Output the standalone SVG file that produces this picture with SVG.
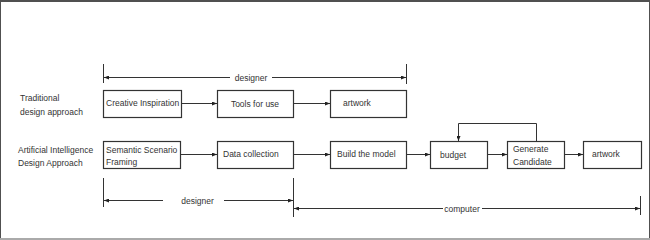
<svg xmlns="http://www.w3.org/2000/svg" width="650" height="240" viewBox="0 0 650 240">
<defs>
<marker id="ah" markerWidth="5" markerHeight="4" refX="5" refY="2" orient="auto-start-reverse" markerUnits="userSpaceOnUse">
<path d="M0,0 L5,2 L0,4 z" fill="#222"/>
</marker>
<style>
.box{fill:#fff;stroke:#333;stroke-width:1.2}
.ln{fill:none;stroke:#333;stroke-width:1}
.t{font-family:"Liberation Sans",Arial,sans-serif;font-size:8.5px;fill:#333}
.c{text-anchor:middle}
</style>
</defs>
<rect x="0" y="0" width="650" height="240" fill="#fff"/>
<g id="frame">
<line x1="0" y1="1" x2="650" y2="1" stroke="#505050" stroke-width="2"/>
<line x1="0.5" y1="0" x2="0.5" y2="240" stroke="#505050" stroke-width="1"/>
<line x1="649.5" y1="0" x2="649.5" y2="240" stroke="#505050" stroke-width="1"/>
<line x1="0" y1="239" x2="650" y2="239" stroke="#aaa" stroke-width="2"/>
</g>
<g id="labels">
<text class="t" x="20" y="101">Traditional</text>
<text class="t" x="20" y="115">design approach</text>
<text class="t" x="18" y="153">Artificial Intelligence</text>
<text class="t" x="18" y="166">Design Approach</text>
</g>
<g id="n1"><rect class="box" x="103.5" y="90.5" width="78" height="27"/><text class="t" x="106" y="106">Creative Inspiration</text></g>
<g id="n2"><rect class="box" x="217.5" y="90.5" width="76" height="27"/><text class="t c" x="255" y="107">Tools for use</text></g>
<g id="n3"><rect class="box" x="330.5" y="90.5" width="76" height="27"/><text class="t" x="343" y="106">artwork</text></g>
<g id="m1"><rect class="box" x="103.5" y="141.5" width="77" height="27"/><text class="t" x="106" y="153">Semantic Scenario</text><text class="t" x="106" y="165">Framing</text></g>
<g id="m2"><rect class="box" x="217.5" y="141.5" width="76" height="27"/><text class="t" x="223" y="157">Data collection</text></g>
<g id="m3"><rect class="box" x="330.5" y="141.5" width="76" height="27"/><text class="t" x="337" y="157">Build the model</text></g>
<g id="m4"><rect class="box" x="430.5" y="141.5" width="57" height="27"/><text class="t" x="440" y="158">budget</text></g>
<g id="m5"><rect class="box" x="507.5" y="141.5" width="57" height="27"/><text class="t" x="513" y="152">Generate</text><text class="t" x="513" y="165">Candidate</text></g>
<g id="m6"><rect class="box" x="583.5" y="141.5" width="58" height="27"/><text class="t" x="592" y="157">artwork</text></g>
<g id="connectors">
<line class="ln" x1="181.5" y1="103.5" x2="217" y2="103.5" marker-end="url(#ah)"/>
<line class="ln" x1="293.5" y1="103.5" x2="330" y2="103.5" marker-end="url(#ah)"/>
<line class="ln" x1="180.5" y1="154.5" x2="217" y2="154.5" marker-end="url(#ah)"/>
<line class="ln" x1="293.5" y1="154.5" x2="330" y2="154.5" marker-end="url(#ah)"/>
<line class="ln" x1="406.5" y1="154.5" x2="430" y2="154.5" marker-end="url(#ah)"/>
<line class="ln" x1="487.5" y1="154.5" x2="507" y2="154.5" marker-end="url(#ah)"/>
<line class="ln" x1="564.5" y1="154.5" x2="583" y2="154.5" marker-end="url(#ah)"/>
<path class="ln" d="M536.5,141 V123.5 H458.5 V141" marker-end="url(#ah)"/>
</g>
<g id="dimensions">
<line class="ln" x1="103.5" y1="64" x2="103.5" y2="83"/>
<line class="ln" x1="406.5" y1="64" x2="406.5" y2="84"/>
<line class="ln" x1="104" y1="77.5" x2="230" y2="77.5" marker-start="url(#ah)"/>
<line class="ln" x1="272" y1="77.5" x2="406" y2="77.5" marker-end="url(#ah)"/>
<text class="t c" x="251" y="80.5">designer</text>
<line class="ln" x1="103.5" y1="178" x2="103.5" y2="207"/>
<line class="ln" x1="293.5" y1="178" x2="293.5" y2="217"/>
<line class="ln" x1="104" y1="200.5" x2="163" y2="200.5" marker-start="url(#ah)"/>
<line class="ln" x1="224" y1="200.5" x2="293" y2="200.5" marker-end="url(#ah)"/>
<text class="t c" x="197.5" y="203.5">designer</text>
<line class="ln" x1="640.5" y1="196" x2="640.5" y2="215"/>
<line class="ln" x1="294" y1="208.5" x2="443" y2="208.5" marker-start="url(#ah)"/>
<line class="ln" x1="482" y1="208.5" x2="640" y2="208.5" marker-end="url(#ah)"/>
<text class="t c" x="462" y="211.5">computer</text>
</g>
</svg>
